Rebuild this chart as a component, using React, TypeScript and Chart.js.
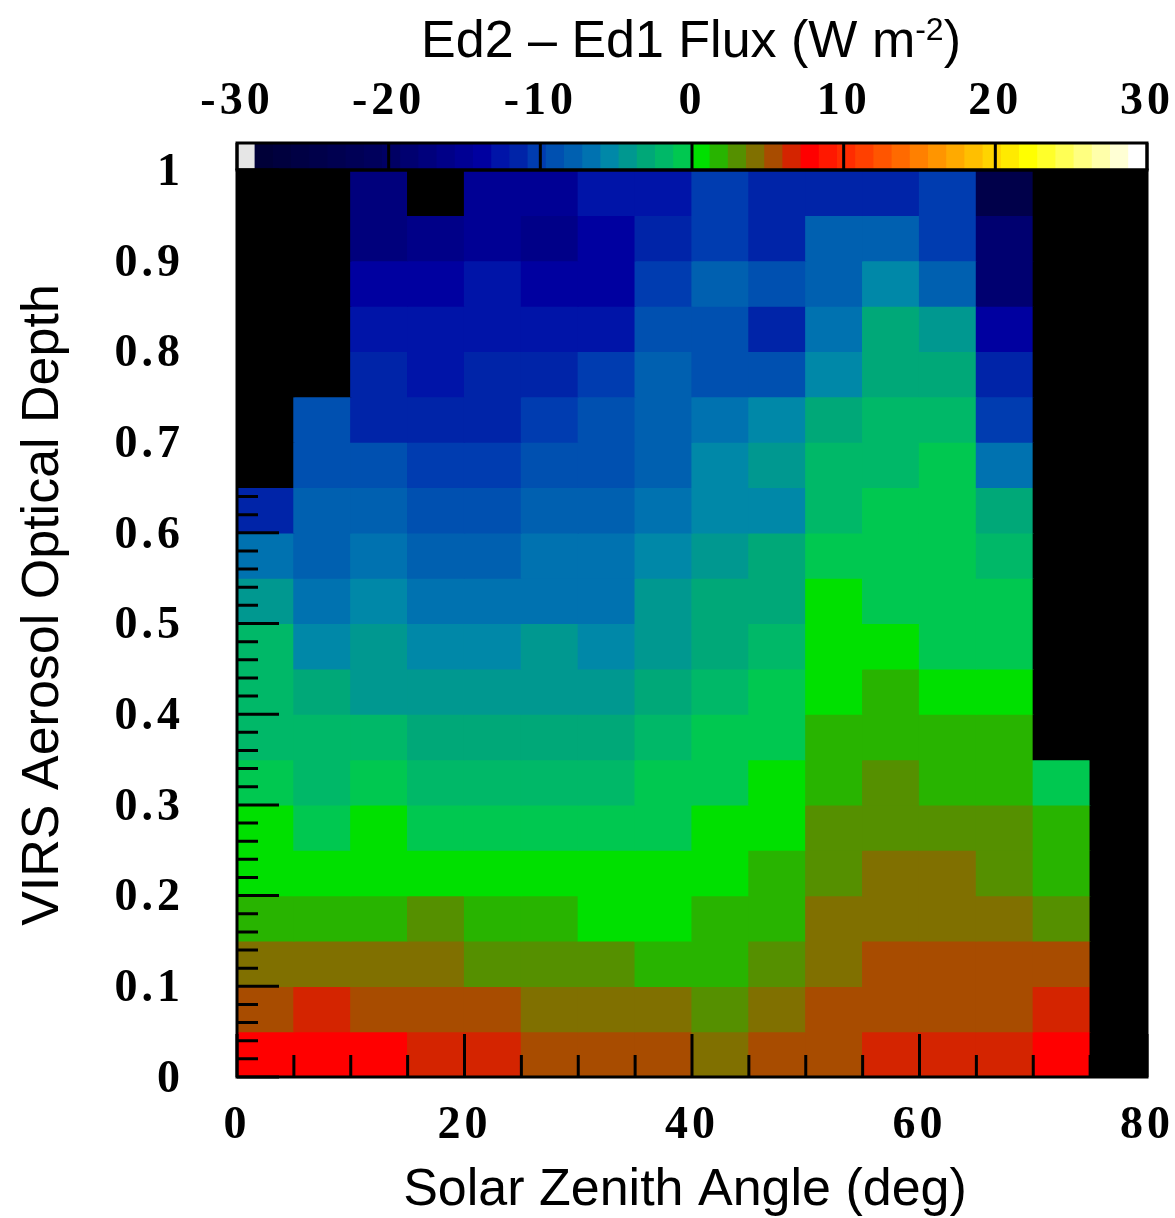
import React, { useEffect, useRef } from 'react';
import { Chart, registerables } from 'chart.js';

Chart.register(...registerables);

type Cell = number | null;

// Solar zenith angle bins (deg): lower edges, 5 deg wide
const SZA_BIN_START = [0, 5, 10, 15, 20, 25, 30, 35, 40, 45, 50, 55, 60, 65, 70, 75];
const SZA_BIN_WIDTH = 5;
// VIRS aerosol optical depth bins: lower edges, 0.05 wide
const AOD_BIN_START = [0, 0.05, 0.1, 0.15, 0.2, 0.25, 0.3, 0.35, 0.4, 0.45, 0.5, 0.55, 0.6, 0.65, 0.7, 0.75, 0.8, 0.85, 0.9, 0.95];
const AOD_BIN_WIDTH = 0.05;

// Ed2 - Ed1 flux difference (W m-2) per SZA bin; null = no data (drawn black)
const n = null;
const FLUX_AOD_000: Cell[] = [7.8, 7.8, 7.8, 6.6, 6.6, 5.4, 5.4, 5.4, 4.2, 5.4, 5.4, 6.6, 6.6, 6.6, 7.8, n];
const FLUX_AOD_005: Cell[] = [5.4, 6.6, 5.4, 5.4, 5.4, 4.2, 4.2, 4.2, 3.0, 4.2, 5.4, 5.4, 5.4, 5.4, 6.6, n];
const FLUX_AOD_010: Cell[] = [4.2, 4.2, 4.2, 4.2, 3.0, 3.0, 3.0, 1.8, 1.8, 3.0, 4.2, 5.4, 5.4, 5.4, 5.4, n];
const FLUX_AOD_015: Cell[] = [1.8, 1.8, 1.8, 3.0, 1.8, 1.8, 0.6, 0.6, 1.8, 1.8, 4.2, 4.2, 4.2, 4.2, 3.0, n];
const FLUX_AOD_020: Cell[] = [0.6, 0.6, 0.6, 0.6, 0.6, 0.6, 0.6, 0.6, 0.6, 1.8, 3.0, 4.2, 4.2, 3.0, 1.8, n];
const FLUX_AOD_025: Cell[] = [0.6, -0.6, 0.6, -0.6, -0.6, -0.6, -0.6, -0.6, 0.6, 0.6, 3.0, 3.0, 3.0, 3.0, 1.8, n];
const FLUX_AOD_030: Cell[] = [-0.6, -1.8, -0.6, -1.8, -1.8, -1.8, -1.8, -0.6, -0.6, 0.6, 1.8, 3.0, 1.8, 1.8, -0.6, n];
const FLUX_AOD_035: Cell[] = [-1.8, -1.8, -1.8, -3.0, -3.0, -3.0, -3.0, -1.8, -0.6, -0.6, 1.8, 1.8, 1.8, 1.8, n, n];
const FLUX_AOD_040: Cell[] = [-1.8, -3.0, -4.2, -4.2, -4.2, -4.2, -4.2, -3.0, -1.8, -0.6, 0.6, 1.8, 0.6, 0.6, n, n];
const FLUX_AOD_045: Cell[] = [-1.8, -5.4, -4.2, -5.4, -5.4, -4.2, -5.4, -4.2, -3.0, -1.8, 0.6, 0.6, -0.6, -0.6, n, n];
const FLUX_AOD_050: Cell[] = [-4.2, -6.6, -5.4, -6.6, -6.6, -6.6, -6.6, -4.2, -3.0, -3.0, 0.6, -0.6, -0.6, -0.6, n, n];
const FLUX_AOD_055: Cell[] = [-6.6, -7.8, -6.6, -7.8, -7.8, -6.6, -6.6, -5.4, -4.2, -3.0, -0.6, -0.6, -0.6, -1.8, n, n];
const FLUX_AOD_060: Cell[] = [-11.4, -7.8, -7.8, -9.0, -9.0, -7.8, -7.8, -6.6, -5.4, -5.4, -1.8, -0.6, -0.6, -3.0, n, n];
const FLUX_AOD_065: Cell[] = [n, -9.0, -9.0, -10.2, -10.2, -9.0, -9.0, -7.8, -5.4, -4.2, -1.8, -1.8, -0.6, -6.6, n, n];
const FLUX_AOD_070: Cell[] = [n, -9.0, -11.4, -11.4, -11.4, -10.2, -9.0, -7.8, -6.6, -5.4, -3.0, -1.8, -1.8, -10.2, n, n];
const FLUX_AOD_075: Cell[] = [n, n, -11.4, -12.6, -11.4, -11.4, -10.2, -7.8, -9.0, -9.0, -5.4, -3.0, -3.0, -11.4, n, n];
const FLUX_AOD_080: Cell[] = [n, n, -12.6, -12.6, -12.6, -12.6, -12.6, -9.0, -9.0, -11.4, -6.6, -3.0, -4.2, -13.8, n, n];
const FLUX_AOD_085: Cell[] = [n, n, -13.8, -13.8, -12.6, -13.8, -13.8, -10.2, -7.8, -9.0, -7.8, -5.4, -7.8, -18.6, n, n];
const FLUX_AOD_090: Cell[] = [n, n, -17.4, -16.2, -15.0, -16.2, -13.8, -11.4, -10.2, -11.4, -7.8, -7.8, -10.2, -18.6, n, n];
const FLUX_AOD_095: Cell[] = [n, n, -17.4, n, -15.0, -15.0, -12.6, -12.6, -10.2, -11.4, -11.4, -11.4, -10.2, -24.6, n, n];

const FLUX_ROWS: Cell[][] = [
  FLUX_AOD_000, FLUX_AOD_005, FLUX_AOD_010, FLUX_AOD_015, FLUX_AOD_020,
  FLUX_AOD_025, FLUX_AOD_030, FLUX_AOD_035, FLUX_AOD_040, FLUX_AOD_045,
  FLUX_AOD_050, FLUX_AOD_055, FLUX_AOD_060, FLUX_AOD_065, FLUX_AOD_070,
  FLUX_AOD_075, FLUX_AOD_080, FLUX_AOD_085, FLUX_AOD_090, FLUX_AOD_095,
];

// Colour scale
const FLUX_SCALE_MIN = -30;
const FLUX_SCALE_MAX = 30;
const PALETTE = [
  '#e6e6e6', '#000038', '#00003e', '#000044', '#00004a', '#000050', '#000056', '#00005c', '#000064', '#000070',
  '#00007c', '#000088', '#000094', '#0000a0', '#0014a8', '#0024a8', '#003cb0', '#0050b0', '#0060b0', '#0072b0',
  '#0088a8', '#009890', '#00a878', '#00b868', '#00c850', '#00e000', '#28b400', '#559000', '#807000', '#a84c00',
  '#d42400', '#ff0000', '#ff1800', '#ff2c00', '#ff4000', '#ff5500', '#ff6a00', '#ff8000', '#ff9500', '#ffaa00',
  '#ffbf00', '#ffd400', '#ffea00', '#ffff00', '#ffff2a', '#ffff55', '#ffff80', '#ffffaa', '#ffffd4', '#ffffff',
];
const LEVEL_WIDTH = (FLUX_SCALE_MAX - FLUX_SCALE_MIN) / PALETTE.length;
const NO_DATA_COLOR = '#000000';

// Axis ticks
const X_TICKS = [0, 20, 40, 60, 80];
const X_MINOR_TICKS = [0, 5, 10, 15, 20, 25, 30, 35, 40, 45, 50, 55, 60, 65, 70, 75, 80];
const Y_TICKS = [0, 0.1, 0.2, 0.3, 0.4, 0.5, 0.6, 0.7, 0.8, 0.9, 1];
const Y_TICK_LABELS = ['0', '0.1', '0.2', '0.3', '0.4', '0.5', '0.6', '0.7', '0.8', '0.9', '1'];
const Y_MINOR_STEP = 0.02;
const CBAR_TICKS = [-30, -20, -10, 0, 10, 20, 30];

function colorFor(v: Cell): string {
  if (v === null || v === undefined) return NO_DATA_COLOR;
  let i = Math.floor((v - FLUX_SCALE_MIN) / LEVEL_WIDTH);
  if (i < 0) i = 0;
  if (i >= PALETTE.length) i = PALETTE.length - 1;
  return PALETTE[i];
}

const TICK_FONT = { family: '"Liberation Serif", "Times New Roman", serif', size: 46, weight: 'bold' as const };
const TITLE_FONT = '52px "Liberation Sans", Arial, sans-serif';
const SUP_FONT = '32px "Liberation Sans", Arial, sans-serif';

const overlayPlugin = {
  id: 'overlay',
  beforeDraw(chart: any) {
    (chart.ctx as any).letterSpacing = '4px';
  },
  afterDatasetsDraw(chart: any) {
    const { ctx } = chart;
    const xs = chart.scales.x;
    const ys = chart.scales.y;
    const xcs = chart.scales.xc;
    const ycs = chart.scales.yc;
    ctx.save();
    ctx.strokeStyle = '#000';
    ctx.lineWidth = 3;
    ctx.lineCap = 'butt';
    ctx.beginPath();
    const nMinor = Math.round(1 / Y_MINOR_STEP);
    for (let k = 0; k <= nMinor; k++) {
      const v = k * Y_MINOR_STEP;
      const major = Y_TICKS.some((t) => Math.abs(t - v) < 1e-6);
      const py = ys.getPixelForValue(v);
      ctx.moveTo(xs.left, py);
      ctx.lineTo(xs.left + (major ? 42 : 21), py);
    }
    X_MINOR_TICKS.forEach((v) => {
      const px = xs.getPixelForValue(v);
      const major = X_TICKS.includes(v);
      ctx.moveTo(px, ys.bottom);
      ctx.lineTo(px, ys.bottom - (major ? 43 : 22));
    });
    CBAR_TICKS.forEach((v) => {
      const px = xcs.getPixelForValue(v);
      ctx.moveTo(px, ycs.top);
      ctx.lineTo(px, ycs.bottom);
    });
    ctx.stroke();
    ctx.strokeRect(xs.left, ycs.top, xs.right - xs.left, ycs.bottom - ycs.top);
    ctx.strokeRect(xs.left, ys.top, xs.right - xs.left, ys.bottom - ys.top);
    ctx.restore();
  },
  afterDraw(chart: any) {
    const { ctx } = chart;
    ctx.save();
    (ctx as any).letterSpacing = '0px';
    ctx.fillStyle = '#000';
    // top title with superscript
    const main = 'Ed2 \u2013 Ed1 Flux (W m';
    const sup = '-2';
    const end = ')';
    ctx.font = TITLE_FONT;
    const w1 = ctx.measureText(main).width;
    const w3 = ctx.measureText(end).width;
    ctx.font = SUP_FONT;
    const w2 = ctx.measureText(sup).width;
    const total = w1 + w2 + w3;
    const x0 = 691 - total / 2;
    ctx.textAlign = 'left';
    ctx.textBaseline = 'alphabetic';
    ctx.font = TITLE_FONT;
    ctx.fillText(main, x0, 57);
    ctx.font = SUP_FONT;
    ctx.fillText(sup, x0 + w1, 40);
    ctx.font = TITLE_FONT;
    ctx.fillText(end, x0 + w1 + w2, 57);
    // bottom title
    ctx.textAlign = 'center';
    ctx.fillText('Solar Zenith Angle (deg)', 685, 1205);
    // left title
    ctx.translate(58, 605);
    ctx.rotate(-Math.PI / 2);
    ctx.fillText('VIRS Aerosol Optical Depth', 0, 0);
    ctx.restore();
  },
};

export default function App() {
  const ref = useRef<HTMLCanvasElement>(null);
  useEffect(() => {
    const canvas = ref.current;
    if (!canvas) return;

    const cells: any[] = [];
    FLUX_ROWS.forEach((row, r) => {
      row.forEach((v, c) => {
        cells.push({
          x: SZA_BIN_START[c] + SZA_BIN_WIDTH / 2,
          y: [AOD_BIN_START[r], AOD_BIN_START[r] + AOD_BIN_WIDTH],
          v,
        });
      });
    });
    const cbar = PALETTE.map((_, i) => ({
      x: FLUX_SCALE_MIN + LEVEL_WIDTH * (i + 0.5),
      y: [0, 1],
    }));

    const hiddenGrid = { display: false, drawTicks: false, offset: false };

    const chart = new Chart(canvas, {
      type: 'bar',
      data: {
        datasets: [
          {
            label: 'Ed2 - Ed1',
            data: cells,
            xAxisID: 'x',
            yAxisID: 'y',
            backgroundColor: cells.map((c) => colorFor(c.v)),
            borderWidth: 0,
            inflateAmount: 0.6,
            barPercentage: 1,
            categoryPercentage: 1,
            grouped: false,
          } as any,
          {
            label: 'colour bar',
            data: cbar,
            xAxisID: 'xc',
            yAxisID: 'yc',
            backgroundColor: PALETTE,
            borderWidth: 0,
            inflateAmount: 0.6,
            barPercentage: 1,
            categoryPercentage: 1,
            grouped: false,
          } as any,
        ],
      },
      options: {
        animation: false,
        responsive: false,
        devicePixelRatio: 1,
        layout: { padding: { left: 0, right: 28, top: 0, bottom: 0 } },
        plugins: { legend: { display: false }, tooltip: { enabled: false }, title: { display: false } },
        scales: {
          x: {
            type: 'linear', axis: 'x', position: 'bottom', min: 0, max: 80, offset: false,
            grid: hiddenGrid, border: { display: false },
            afterBuildTicks: (s: any) => { s.ticks = X_TICKS.map((v) => ({ value: v })); },
            afterFit: (s: any) => { s.height = 141; s.paddingLeft = 0; s.paddingRight = 0; },
            ticks: { font: TICK_FONT, color: '#000', padding: 22, autoSkip: false, maxRotation: 0, minRotation: 0, callback: (v: any) => String(v) },
          },
          xc: {
            type: 'linear', axis: 'x', position: 'top', min: FLUX_SCALE_MIN, max: FLUX_SCALE_MAX, offset: false,
            grid: hiddenGrid, border: { display: false },
            afterBuildTicks: (s: any) => { s.ticks = CBAR_TICKS.map((v) => ({ value: v })); },
            afterFit: (s: any) => { s.height = 143; s.paddingLeft = 0; s.paddingRight = 0; },
            ticks: { font: TICK_FONT, color: '#000', padding: 13, autoSkip: false, maxRotation: 0, minRotation: 0, callback: (v: any) => String(v) },
          },
          y: {
            type: 'linear', axis: 'y', position: 'left', min: 0, max: 1, stack: 'plot', stackWeight: 907, weight: 0,
            grid: hiddenGrid, border: { display: false },
            afterBuildTicks: (s: any) => { s.ticks = Y_TICKS.map((v) => ({ value: v })); },
            afterFit: (s: any) => { s.width = 237; },
            ticks: { font: TICK_FONT, color: '#000', padding: 53, labelOffset: 3, autoSkip: false, callback: (_v: any, i: number) => Y_TICK_LABELS[i] },
          },
          yc: {
            type: 'linear', axis: 'y', position: 'left', min: 0, max: 1, stack: 'plot', stackWeight: 27, weight: 1,
            grid: hiddenGrid, border: { display: false },
            afterFit: (s: any) => { s.width = 237; },
            ticks: { display: false },
          },
        } as any,
      },
      plugins: [overlayPlugin],
    });
    return () => chart.destroy();
  }, []);

  return (
    <div style={{ position: 'absolute', left: 0, top: 0, width: 1175, height: 1218, background: '#ffffff' }}>
      <canvas ref={ref} width={1175} height={1218} style={{ display: 'block', width: 1175, height: 1218 }} />
    </div>
  );
}
